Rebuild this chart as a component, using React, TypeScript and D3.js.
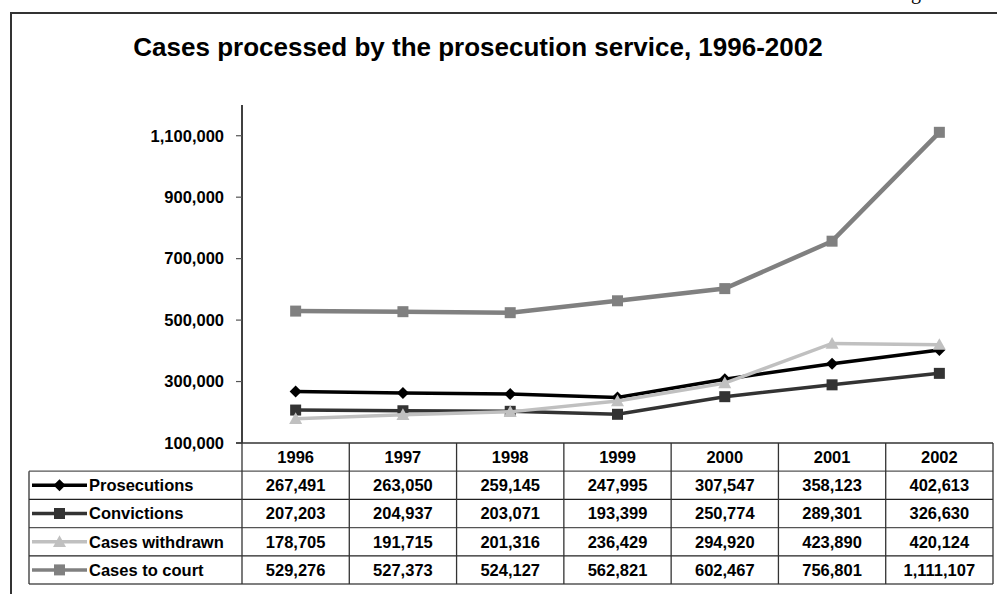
import React, { useEffect } from "react";
import * as d3 from "d3";

const years = ["1996", "1997", "1998", "1999", "2000", "2001", "2002"];
const prosecutions = [267491, 263050, 259145, 247995, 307547, 358123, 402613];
const convictions = [207203, 204937, 203071, 193399, 250774, 289301, 326630];
const withdrawn = [178705, 191715, 201316, 236429, 294920, 423890, 420124];
const toCourt = [529276, 527373, 524127, 562821, 602467, 756801, 1111107];
const yTicks = [100000, 300000, 500000, 700000, 900000, 1100000];
const seriesNames = ["Prosecutions", "Convictions", "Cases withdrawn", "Cases to court"];
const seriesColors = ["#000000", "#333333", "#c0c0c0", "#808080"];
const seriesMarkers = ["diamond", "square", "triangle", "square"];
const title = "Cases processed by the prosecution service, 1996-2002";

const W = 997;
const H = 594;
const FONT = "'Liberation Sans', Arial, sans-serif";

function Marker({ type, x, y, color }: { type: string; x: number; y: number; color: string }) {
  if (type === "diamond") {
    const s = 6;
    return <path d={`M${x},${y - s}L${x + s},${y}L${x},${y + s}L${x - s},${y}Z`} fill={color} />;
  }
  if (type === "square") {
    const s = 5.5;
    return <rect x={x - s} y={y - s} width={2 * s} height={2 * s} fill={color} />;
  }
  const s = 6.5;
  return <path d={`M${x},${y - s}L${x + s},${y + s * 0.8}L${x - s},${y + s * 0.8}Z`} fill={color} />;
}

export default function App() {
  useEffect(() => {
    document.body.style.margin = "0";
    document.body.style.overflow = "hidden";
  }, []);

  const series = [prosecutions, convictions, withdrawn, toCourt];
  const plotLeft = 242;
  const plotRight = 993;
  const x = d3.scaleBand<string>().domain(years).range([plotLeft, plotRight]).padding(0);
  const cx = (yr: string) => (x(yr) as number) + x.bandwidth() / 2;
  const y = d3.scaleLinear().domain([100000, 1200000]).range([443, 105]);
  const fmt = d3.format(",");
  const line = d3
    .line<number>()
    .x((_, i) => cx(years[i]))
    .y((v) => y(v));

  const tableTop = 443;
  const rowH = 28.2;
  const legendLeft = 29;
  const rowLines = d3.range(1, series.length + 2).map((i) => tableTop + i * rowH);
  const tableBottom = tableTop + (series.length + 1) * rowH;
  const colLines = [...years.map((yr) => x(yr) as number), plotRight];

  return (
    <svg width={W} height={H} style={{ position: "absolute", left: 0, top: 0 }} fontFamily={FONT}>
      <rect width={W} height={H} fill="#fff" />
      <text x={911} y={-1} fontFamily="'Liberation Serif', serif" fontSize={20} fill="#000">g</text>
      <rect x={11} y={13} width={1100} height={700} fill="none" stroke="#333" strokeWidth={2} />
      <text x={478} y={56} textAnchor="middle" fontSize={26} fontWeight="bold">{title}</text>

      {/* y axis */}
      <line x1={plotLeft} x2={plotLeft} y1={105} y2={tableTop} stroke="#000" strokeWidth={1.5} />
      {yTicks.map((t) => (
        <g key={t}>
          <line x1={plotLeft - 6} x2={plotLeft} y1={y(t)} y2={y(t)} stroke="#555" strokeWidth={1.2} />
          <text x={224} y={y(t)} dy="0.35em" textAnchor="end" fontSize={16.5} fontWeight="bold">{fmt(t)}</text>
        </g>
      ))}

      {/* series */}
      {series.map((vals, si) => (
        <g key={si}>
          <path d={line(vals) || ""} fill="none" stroke={seriesColors[si]} strokeWidth={si === 3 ? 4.5 : 3.5} />
          {vals.map((v, i) => (
            <Marker key={i} type={seriesMarkers[si]} x={cx(years[i])} y={y(v)} color={seriesColors[si]} />
          ))}
        </g>
      ))}

      {/* data table */}
      <line x1={plotLeft - 6} x2={plotRight} y1={tableTop} y2={tableTop} stroke="#333" strokeWidth={1.5} />
      {rowLines.map((ry, i) => (
        <line key={i} x1={legendLeft} x2={plotRight} y1={ry} y2={ry} stroke={i % 2 === 0 ? "#555" : "#222"} strokeWidth={1.3} />
      ))}
      <line x1={legendLeft} x2={legendLeft} y1={tableTop + rowH} y2={tableBottom} stroke="#333" strokeWidth={1.3} />
      {colLines.map((cxl, i) => (
        <line key={i} x1={cxl} x2={cxl} y1={tableTop} y2={tableBottom} stroke="#333" strokeWidth={1.3} />
      ))}
      {years.map((yr) => (
        <text key={yr} x={cx(yr)} y={tableTop + rowH / 2} dy="0.36em" textAnchor="middle" fontSize={16.5} fontWeight="bold">{yr}</text>
      ))}
      {series.map((vals, si) => {
        const ry = tableTop + (si + 1) * rowH + rowH / 2;
        return (
          <g key={si}>
            <line x1={32} x2={87} y1={ry} y2={ry} stroke={seriesColors[si]} strokeWidth={3.5} />
            <Marker type={seriesMarkers[si]} x={59.5} y={ry} color={seriesColors[si]} />
            <text x={89} y={ry} dy="0.36em" fontSize={16.5} fontWeight="bold">{seriesNames[si]}</text>
            {vals.map((v, i) => (
              <text key={i} x={cx(years[i])} y={ry} dy="0.36em" textAnchor="middle" fontSize={16.5} fontWeight="bold">{fmt(v)}</text>
            ))}
          </g>
        );
      })}
    </svg>
  );
}
